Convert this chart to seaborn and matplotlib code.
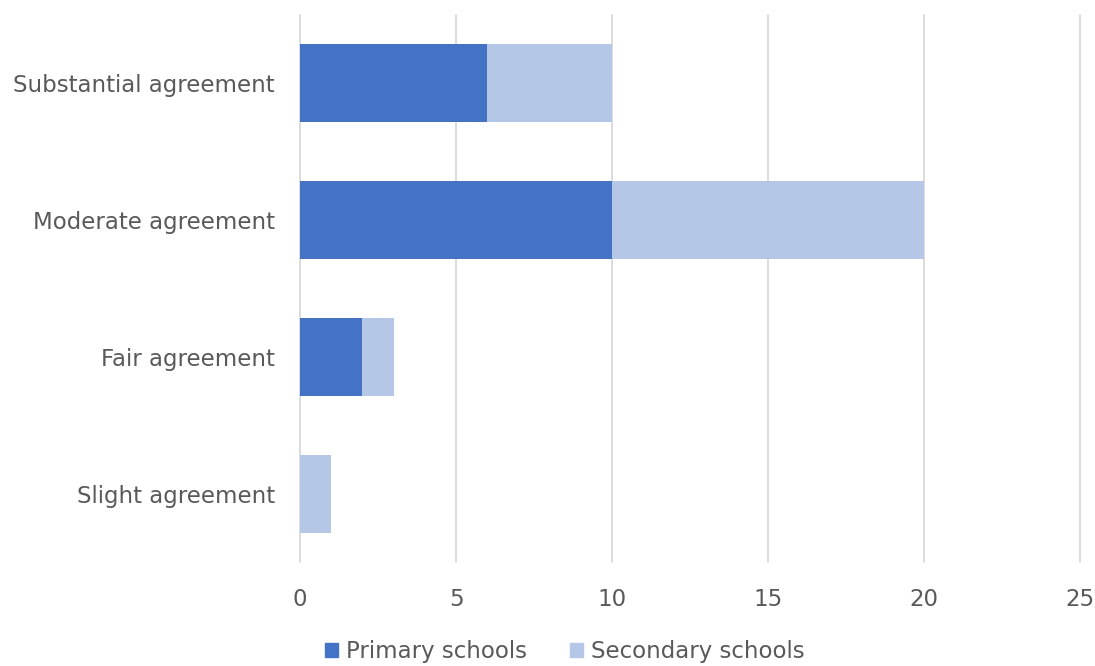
import matplotlib
matplotlib.use("Agg")
import matplotlib.pyplot as plt
from matplotlib.patches import Patch
import seaborn as sns
import pandas as pd

categories = ["Substantial agreement", "Moderate agreement", "Fair agreement", "Slight agreement"]
primary = [6, 10, 2, 0]
secondary = [4, 10, 1, 1]
xticks = [0, 5, 10, 15, 20, 25]

primary_color = "#4472c4"
secondary_color = "#b4c7e7"
text_color = "#595959"
grid_color = "#d9d9d9"

df = pd.DataFrame({"category": categories, "primary": primary, "secondary": secondary})
df["total"] = df["primary"] + df["secondary"]

sns.set_theme(style="white")
plt.rcParams["font.family"] = ["DejaVu Sans"]

fig = plt.figure(figsize=(10.95, 6.66), dpi=100)
ax = fig.add_axes([0.274, 0.156, 0.7123, 0.8215])

# Stacked bars: full total in the light colour, primary share drawn on top
sns.barplot(data=df, y="category", x="total", color=secondary_color, width=0.57,
            orient="h", ax=ax, saturation=1, linewidth=0, zorder=2)
sns.barplot(data=df, y="category", x="primary", color=primary_color, width=0.57,
            orient="h", ax=ax, saturation=1, linewidth=0, zorder=3)

ax.set_xlim(0, 25)
ax.set_ylim(3.5, -0.5)
ax.set_xticks(xticks)
ax.set_xticklabels([str(t) for t in xticks])
ax.set_xlabel("")
ax.set_ylabel("")
for s in ax.spines.values():
    s.set_visible(False)
ax.grid(axis="x", color=grid_color, linewidth=1.3, zorder=0)
ax.grid(axis="y", visible=False)
for gl in ax.get_xgridlines():
    gl.set_clip_on(False)
ax.set_axisbelow(True)
ax.tick_params(axis="both", length=0, labelsize=16.5, labelcolor=text_color)
ax.tick_params(axis="x", pad=18.5)
ax.tick_params(axis="y", pad=18)

handles = [Patch(color=primary_color, label="Primary schools"),
           Patch(color=secondary_color, label="Secondary schools")]
fig.legend(handles=handles, loc="center", bbox_to_anchor=(0.516, 0.022), ncol=2,
           frameon=False, fontsize=16.5, labelcolor=text_color, handlelength=0.55,
           handleheight=0.55, handletextpad=0.35, columnspacing=1.9)

fig.savefig("out.png", dpi=100)
